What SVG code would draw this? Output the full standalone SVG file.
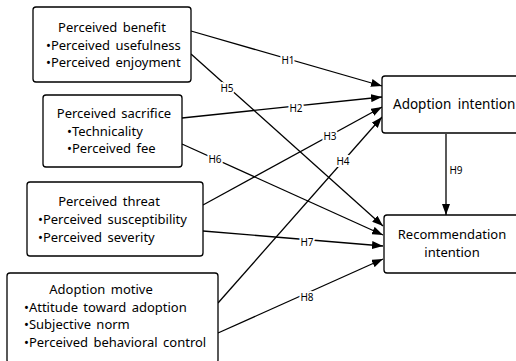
<svg xmlns="http://www.w3.org/2000/svg" width="516" height="361" viewBox="0 0 516 361">
<style>
.box{fill:#fff;stroke:#000;stroke-width:1.3}
.t{font-family:"Noto Sans","DejaVu Sans",sans-serif;font-size:13px;fill:#000;word-spacing:2px}
.c{text-anchor:middle}
.ln{stroke:#000;stroke-width:1.3;fill:none;marker-end:url(#ah)}
.lb{font-family:"Noto Sans","DejaVu Sans",sans-serif;font-size:10px;fill:#000;text-anchor:middle;paint-order:stroke;stroke:#fff;stroke-width:4px;stroke-linejoin:round}
</style>
<defs>
<marker id="ah" viewBox="0 0 11 8" refX="11" refY="4" markerWidth="11" markerHeight="8" markerUnits="userSpaceOnUse" orient="auto">
<path d="M0,0 L11,4 L0,8 Z" fill="#000"/>
</marker>
</defs>
<rect width="516" height="361" fill="#fff"/>
<g id="connectors">
<line class="ln" x1="191" y1="31" x2="382" y2="86"/>
<line class="ln" x1="182" y1="118" x2="382" y2="97"/>
<line class="ln" x1="203" y1="205" x2="382" y2="107"/>
<line class="ln" x1="218" y1="303" x2="382" y2="117"/>
<line class="ln" x1="191" y1="54" x2="383" y2="226"/>
<line class="ln" x1="182" y1="144" x2="383" y2="235"/>
<line class="ln" x1="203" y1="231" x2="383" y2="246"/>
<line class="ln" x1="218" y1="333" x2="383" y2="259"/>
<line class="ln" x1="446" y1="134" x2="446" y2="215"/>
<text class="lb" x="288" y="64">H1</text>
<text class="lb" x="296" y="112">H2</text>
<text class="lb" x="330" y="140">H3</text>
<text class="lb" x="343" y="165">H4</text>
<text class="lb" x="227" y="92">H5</text>
<text class="lb" x="215" y="163">H6</text>
<text class="lb" x="307" y="246">H7</text>
<text class="lb" x="307" y="301">H8</text>
<text class="lb" x="456" y="174">H9</text>
</g>
<g id="benefit">
<rect class="box" x="33" y="7" width="158" height="75" rx="3"/>
<text class="t c" x="112" y="32">Perceived benefit</text>
<text class="t" x="46" y="50">•Perceived usefulness</text>
<text class="t" x="46" y="67">•Perceived enjoyment</text>
</g>
<g id="sacrifice">
<rect class="box" x="43" y="95" width="139" height="72" rx="3"/>
<text class="t c" x="114" y="118">Perceived sacrifice</text>
<text class="t" x="67" y="136">•Technicality</text>
<text class="t" x="67" y="153">•Perceived fee</text>
</g>
<g id="threat">
<rect class="box" x="27" y="182" width="176" height="74" rx="3"/>
<text class="t c" x="109" y="206">Perceived threat</text>
<text class="t" x="38" y="224">•Perceived susceptibility</text>
<text class="t" x="38" y="242">•Perceived severity</text>
</g>
<g id="motive">
<rect class="box" x="7" y="273" width="211" height="90" rx="3"/>
<text class="t c" x="101" y="294">Adoption motive</text>
<text class="t" x="24" y="312">•Attitude toward adoption</text>
<text class="t" x="24" y="329">•Subjective norm</text>
<text class="t" x="24" y="347">•Perceived behavioral control</text>
</g>
<g id="adoption">
<rect class="box" x="382" y="76" width="140" height="57" rx="3"/>
<text class="t" x="393" y="109" style="font-size:13.5px;word-spacing:3px">Adoption intention</text>
</g>
<g id="recommendation">
<rect class="box" x="384" y="215" width="140" height="58" rx="3"/>
<text class="t c" x="452" y="239">Recommendation</text>
<text class="t c" x="452" y="257">intention</text>
</g>
</svg>
